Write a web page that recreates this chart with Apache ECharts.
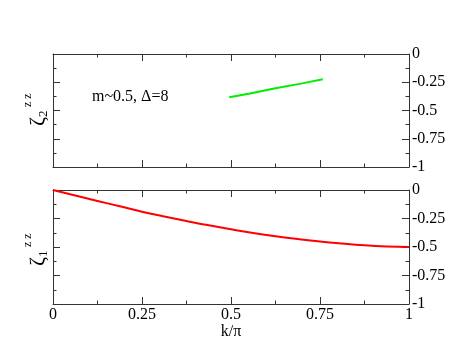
<!DOCTYPE html>
<html><head><meta charset="utf-8">
<script src="https://cdn.jsdelivr.net/npm/echarts@6/dist/echarts.min.js"></script>
<style>html,body{margin:0;padding:0;background:#fff}#c{width:463px;height:358px}</style>
</head><body><div id="c"></div>
<script>
// k/pi values and zeta values
var kGreen = [0.495, 0.55, 0.625, 0.70, 0.758];
var zeta2 = [-0.382, -0.352, -0.303, -0.260, -0.224];
var kRed = [0, 0.0625, 0.125, 0.1875, 0.25, 0.3125, 0.375, 0.4375, 0.5, 0.5625, 0.625, 0.6875, 0.75, 0.8125, 0.875, 0.9375, 1];
var zeta1 = [0, -0.048, -0.096, -0.143, -0.19, -0.232, -0.272, -0.31, -0.345, -0.377, -0.405, -0.43, -0.452, -0.47, -0.485, -0.495, -0.5];
var yTicks = ['0', '-0.25', '-0.5', '-0.75', '-1'];
var xTicks = ['0', '0.25', '0.5', '0.75', '1'];
var annotation = 'm~0.5, \u0394=8';
var xName = 'k/\u03c0';

var FONT = 'Liberation Serif';
var AX = '#333';
function xAx(grid, pos, labels, name) {
  return {
    type: 'value', gridIndex: grid, position: pos, min: 0, max: 1, interval: 0.25,
    axisLine: {show: true, onZero: false, lineStyle: {color: AX, width: 1}},
    axisTick: {show: true, inside: true, length: 7, lineStyle: {color: AX}},
    minorTick: {show: true, splitNumber: 2, length: 3.5, lineStyle: {color: AX}},
    splitLine: {show: false},
    axisLabel: {show: labels, fontFamily: FONT, fontSize: 16, color: '#000', margin: 3,
      formatter: function (v) { var i = Math.round(v * 4); return xTicks[i]; }},
    name: name || '', nameLocation: 'middle', nameGap: 14,
    nameTextStyle: {fontFamily: FONT, fontSize: 16, color: '#000'}
  };
}
function yAx(grid, pos, labels) {
  return {
    type: 'value', gridIndex: grid, position: pos, min: -1, max: 0, interval: 0.25,
    axisLine: {show: true, onZero: false, lineStyle: {color: AX, width: 1}},
    axisTick: {show: true, inside: true, length: 7, lineStyle: {color: AX}},
    minorTick: {show: true, splitNumber: 2, length: 3.5, lineStyle: {color: AX}},
    splitLine: {show: false},
    axisLabel: {show: labels, fontFamily: FONT, fontSize: 16, color: '#000', margin: 3,
      formatter: function (v) { var i = Math.round(-v * 4); return yTicks[i]; }}
  };
}
function ylabel(cx, cy, sub) {
  return {
    type: 'group', x: cx, y: cy, rotation: Math.PI / 2,
    children: [
      {type: 'text', x: 0, y: 0, style: {text: '\u03b6', font: '22px "Liberation Serif"', fill: '#000', verticalAlign: 'middle', align: 'left'}},
      {type: 'text', x: 9, y: 6, style: {text: sub, font: '13px "Liberation Serif"', fill: '#000', verticalAlign: 'middle', align: 'left'}},
      {type: 'text', x: 19, y: -10, style: {text: 'z z', font: '12px "Liberation Serif"', fill: '#000', verticalAlign: 'middle', align: 'left'}}
    ]
  };
}
var chart = echarts.init(document.getElementById('c'), null, {renderer: 'canvas'});
chart.setOption({
  animation: false,
  backgroundColor: '#fff',
  grid: [
    {left: 53, right: 54, top: 54, height: 113},
    {left: 53, right: 54, top: 190, height: 114}
  ],
  xAxis: [
    xAx(0, 'bottom', false), xAx(0, 'top', false),
    xAx(1, 'bottom', true, xName), xAx(1, 'top', false)
  ],
  yAxis: [
    yAx(0, 'left', false), yAx(0, 'right', true),
    yAx(1, 'left', false), yAx(1, 'right', true)
  ],
  series: [
    {type: 'line', xAxisIndex: 0, yAxisIndex: 0, showSymbol: false,
      lineStyle: {color: '#00ee00', width: 2}, data: kGreen.map(function (k, i) { return [k, zeta2[i]]; })},
    {type: 'line', xAxisIndex: 2, yAxisIndex: 2, showSymbol: false, smooth: true,
      lineStyle: {color: '#ff0000', width: 2}, data: kRed.map(function (k, i) { return [k, zeta1[i]]; })}
  ],
  graphic: [
    {type: 'text', x: 92, y: 97, style: {text: annotation, font: '16px "Liberation Serif"', fill: '#000', verticalAlign: 'middle'}},
    ylabel(38, 126, '2'),
    ylabel(38, 266, '1')
  ]
});
</script></body></html>
